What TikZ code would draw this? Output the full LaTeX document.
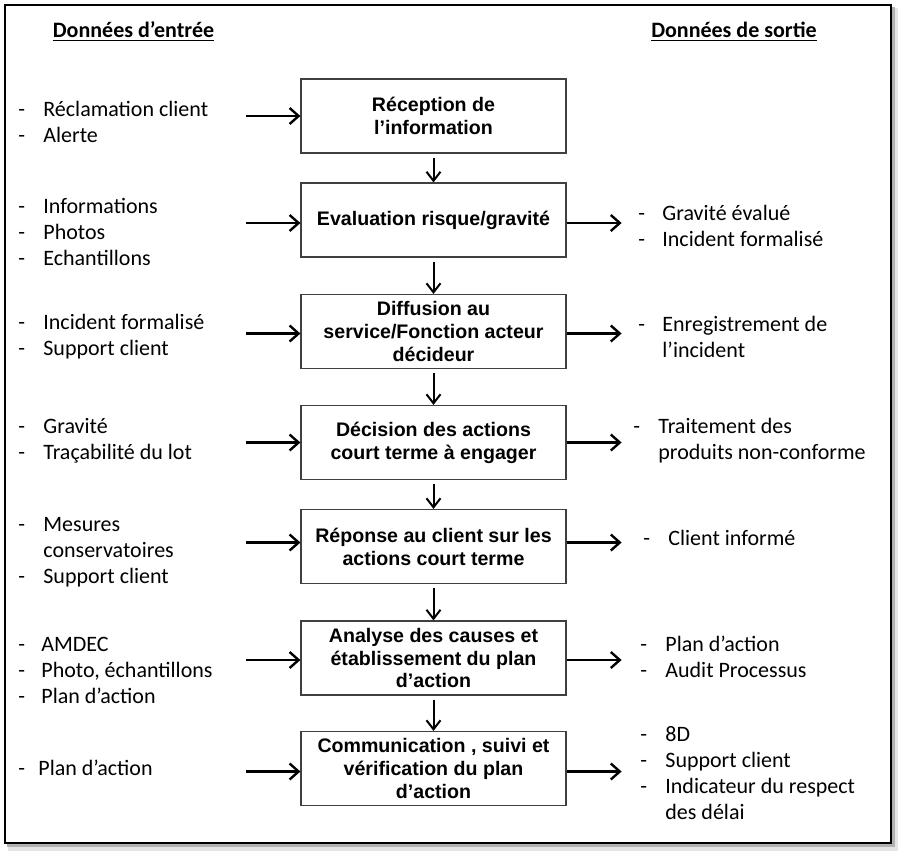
\documentclass[tikz,border=0pt]{standalone}
\usepackage{fontspec}
\setmainfont{Carlito}
\newfontfamily\boxfont{Liberation Sans}
\usetikzlibrary{arrows.meta}

\newcommand{\itm}[1][12.5pt]{\makebox[#1][l]{-}}
\newcommand{\cont}{\hspace*{12.5pt}}

\begin{document}
\begin{tikzpicture}[x=0.5pt, y=-0.5pt,
  stepbox/.style={draw=black!75, line width=0.6pt, minimum width=132.5pt,
    minimum height=37pt, inner sep=2pt, align=center,
    font=\boxfont\bfseries\fontsize{9.8}{11.4}\selectfont},
  datalist/.style={anchor=west, align=left, inner sep=0pt,
    font=\fontsize{11}{13}\selectfont},
  heading/.style={inner sep=0pt, font=\bfseries\fontsize{11}{13}\selectfont},
  flow/.style={line width=1.2pt, -{Straight Barb[length=4.5pt,width=8pt]}},
  down/.style={line width=1pt, -{Straight Barb[length=4.5pt,width=7pt]}}]

\useasboundingbox (0,0) rectangle (904,858);

% frame with shadow
\fill[black!10] (8,8) rectangle (898,851);
\fill[black!30] (7,7) rectangle (895,847);
\draw[fill=white, line width=1.2pt] (5,5) rectangle (891,843);

\node[heading] (hin) at (133.5,32) {\underline{Données d’entrée}};
\node[heading] (hout) at (734,32) {\underline{Données de sortie}};

% process steps
\node[stepbox] (b1) at (433.5,116) {Réception de\\l’information};
\node[stepbox] (b2) at (433.5,220) {Evaluation risque/gravité};
\node[stepbox] (b3) at (433.5,331.5) {Diffusion au\\service/Fonction acteur\\décideur};
\node[stepbox] (b4) at (433.5,442.5) {Décision des actions\\court terme à engager};
\node[stepbox] (b5) at (433.5,546.5) {Réponse au client sur les\\actions court terme};
\node[stepbox] (b6) at (433.5,658) {Analyse des causes et\\établissement du plan\\d’action};
\node[stepbox] (b7) at (433.5,768.5) {Communication , suivi et\\vérification du plan\\d’action};

\draw[down] ([yshift=-2pt]b1.south) -- (b2.north);
\draw[down] ([yshift=-2pt]b2.south) -- (b3.north);
\draw[down] ([yshift=-2pt]b3.south) -- (b4.north);
\draw[down] ([yshift=-2pt]b4.south) -- (b5.north);
\draw[down] ([yshift=-2pt]b5.south) -- (b6.north);
\draw[down] ([yshift=-2pt]b6.south) -- (b7.north);

% inputs
\node[datalist] (in1) at (18,121.5) {\itm Réclamation client\\\itm Alerte};
\node[datalist] (in2) at (18,231.5) {\itm Informations\\\itm Photos\\\itm Echantillons};
\node[datalist] (in3) at (18,336.5) {\itm Incident formalisé\\\itm Support client};
\node[datalist] (in4) at (18,441) {\itm Gravité\\\itm Traçabilité du lot};
\node[datalist] (in5) at (18,552) {\itm Mesures\\\cont conservatoires\\\itm Support client};
\node[datalist] (in6) at (18,670) {\itm[11.5pt]AMDEC\\\itm[11.5pt]Photo, échantillons\\\itm[11.5pt]Plan d’action};
\node[datalist] (in7) at (18,768) {\itm[10pt]Plan d’action};

\draw[flow] ([xshift=-27pt]b1.west) -- (b1.west);
\draw[flow] ([xshift=-27pt,yshift=-1.5pt]b2.west) -- ([yshift=-1.5pt]b2.west);
\draw[flow] ([xshift=-27pt,yshift=-1pt]b3.west) -- ([yshift=-1pt]b3.west);
\draw[flow] ([xshift=-27pt]b4.west) -- (b4.west);
\draw[flow] ([xshift=-27pt,yshift=2pt]b5.west) -- ([yshift=2pt]b5.west);
\draw[flow] ([xshift=-27pt,yshift=-1pt]b6.west) -- ([yshift=-1pt]b6.west);
\draw[flow] ([xshift=-27pt,yshift=-1.5pt]b7.west) -- ([yshift=-1.5pt]b7.west);

% outputs
\node[datalist] (out2) at (638,226) {\itm[12pt]Gravité évalué\\\itm[12pt]Incident formalisé};
\node[datalist] (out3) at (638,336.5) {\itm[12pt]Enregistrement de\\\hspace*{12pt}l’incident};
\node[datalist] (out4) at (633,441) {\itm Traitement des\\\cont produits non-conforme};
\node[datalist] (out5) at (643,538) {\itm Client informé};
\node[datalist] (out6) at (640,657) {\itm Plan d’action\\\itm Audit Processus};
\node[datalist] (out7) at (640,773) {\itm 8D\\\itm Support client\\\itm Indicateur du respect\\\cont des délai};

\draw[flow] ([yshift=-1.5pt]b2.east) -- ([xshift=27.5pt,yshift=-1.5pt]b2.east);
\draw[flow] ([yshift=-1pt]b3.east) -- ([xshift=27.5pt,yshift=-1pt]b3.east);
\draw[flow] (b4.east) -- ([xshift=27.5pt]b4.east);
\draw[flow] ([yshift=2pt]b5.east) -- ([xshift=27.5pt,yshift=2pt]b5.east);
\draw[flow] ([yshift=-1pt]b6.east) -- ([xshift=27.5pt,yshift=-1pt]b6.east);
\draw[flow] ([yshift=-1.5pt]b7.east) -- ([xshift=27.5pt,yshift=-1.5pt]b7.east);

\end{tikzpicture}
\end{document}
